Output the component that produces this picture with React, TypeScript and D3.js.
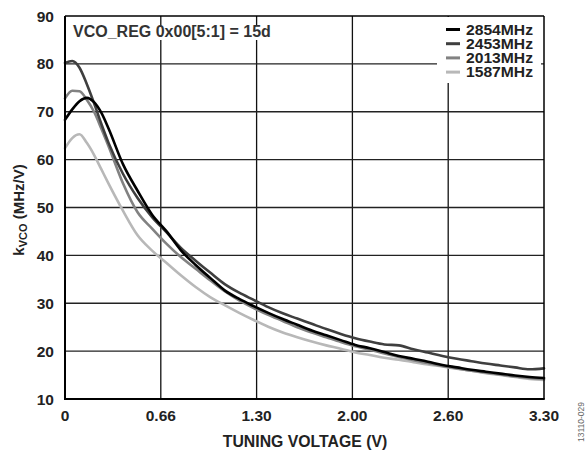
import React from 'react';
import * as d3 from 'd3';

// Tuning voltage (V)
const voltages = [0, 0.05, 0.1, 0.15, 0.2, 0.25, 0.3, 0.4, 0.5, 0.6, 0.7, 0.8, 0.9, 1.0, 1.1, 1.2, 1.3, 1.4, 1.5, 1.6, 1.7, 1.8, 1.9, 2.0, 2.1, 2.2, 2.3, 2.4, 2.5, 2.6, 2.7, 2.8, 2.9, 3.0, 3.1, 3.2, 3.3];

// kVCO (MHz/V) per frequency
const k2854 = [68.3, 70.5, 72.2, 72.9, 72.0, 69.8, 66.5, 59.0, 53.5, 48.5, 45.0, 41.0, 38.0, 35.3, 32.7, 30.9, 29.4, 28.0, 26.7, 25.5, 24.3, 23.3, 22.3, 21.3, 20.6, 19.8, 19.0, 18.4, 17.8, 17.1, 16.6, 16.1, 15.7, 15.3, 14.9, 14.6, 14.4];
const k2453 = [80.2, 80.6, 79.2, 75.8, 71.8, 67.5, 63.5, 57.0, 52.0, 48.0, 44.8, 41.5, 38.9, 36.4, 34.0, 32.2, 30.7, 29.2, 27.9, 26.8, 25.7, 24.6, 23.6, 22.7, 22.0, 21.4, 21.2, 20.4, 19.7, 19.0, 18.4, 17.9, 17.4, 17.0, 16.6, 16.2, 16.4];
const k2013 = [72.8, 74.4, 74.3, 72.5, 70.0, 66.5, 62.8, 55.0, 49.0, 45.6, 42.4, 39.6, 37.2, 34.8, 32.5, 30.6, 29.0, 27.6, 26.3, 25.0, 23.9, 22.9, 21.9, 21.0, 20.3, 19.5, 18.8, 18.1, 17.5, 16.9, 16.4, 15.9, 15.5, 15.1, 14.7, 14.4, 14.2];
const k1587 = [62.4, 64.5, 65.3, 63.5, 61.0, 58.0, 55.0, 49.3, 44.2, 41.0, 38.4, 35.8, 33.4, 31.3, 29.6, 28.0, 26.5, 25.1, 23.9, 22.9, 22.0, 21.2, 20.5, 19.7, 19.2, 18.6, 18.2, 17.7, 17.2, 16.8, 16.3, 15.9, 15.4, 15.0, 14.6, 14.2, 14.0];

const seriesNames = ['2854MHz', '2453MHz', '2013MHz', '1587MHz'];
const seriesValues = [k2854, k2453, k2013, k1587];
const seriesColors = ['#000000', '#3f3f3f', '#828282', '#b8b8b8'];

const yTicks = [10, 20, 30, 40, 50, 60, 70, 80, 90];
const xTickValues = [0, 0.66, 1.32, 1.98, 2.64, 3.3];
const xTickLabels = ['0', '0.66', '1.30', '2.00', '2.60', '3.30'];

const W = 586;
const H = 450;
const L = 65, R = 544, T = 16, B = 399;
const FONT = '"Liberation Sans", Arial, sans-serif';

export default function App() {
  const x = d3.scaleLinear().domain([0, 3.3]).range([L, R]);
  const y = d3.scaleLinear().domain([10, 90]).range([B, T]);
  const line = d3
    .line<number>()
    .x((_, i) => x(voltages[i]))
    .y((d) => y(d))
    .curve(d3.curveMonotoneX);

  const drawOrder = [3, 2, 1, 0];

  return (
    <svg width={W} height={H} style={{ position: 'absolute', left: 0, top: 0, background: '#fff' }} fontFamily={FONT}>
      <rect x={0} y={0} width={W} height={H} fill="#fff" />
      {/* grid */}
      {xTickValues.slice(1, -1).map((v) => (
        <line key={'gx' + v} x1={x(v)} x2={x(v)} y1={T} y2={B} stroke="#111" strokeWidth={1.3} />
      ))}
      {yTicks.slice(1, -1).map((v) => (
        <line key={'gy' + v} x1={L} x2={R} y1={y(v)} y2={y(v)} stroke="#222" strokeWidth={1.3} />
      ))}
      {/* annotation box */}
      <rect x={70} y={26} width={202} height={14} fill="#fff" />
      {/* legend box */}
      <rect x={437} y={17} width={104} height={66} fill="#fff" />
      {/* series */}
      {drawOrder.map((i) => (
        <path
          key={seriesNames[i]}
          d={line(seriesValues[i]) || ''}
          fill="none"
          stroke={seriesColors[i]}
          strokeWidth={2.6}
          strokeLinejoin="round"
          strokeLinecap="round"
        />
      ))}
      {/* frame */}
      <line x1={L} x2={R} y1={T} y2={T} stroke="#000" strokeWidth={1.5} />
      <line x1={R} x2={R} y1={T} y2={B} stroke="#000" strokeWidth={1.5} />
      <line x1={L} x2={L} y1={T} y2={B + 1} stroke="#000" strokeWidth={2} />
      <line x1={L - 1} x2={R + 0.75} y1={B} y2={B} stroke="#000" strokeWidth={2.2} />
      {/* y ticks */}
      {yTicks.map((v) => (
        <text key={'yt' + v} x={54} y={y(v) + 5.5} textAnchor="end" fontSize={15.5} fontWeight="bold" fill="#222">
          {v}
        </text>
      ))}
      {/* x ticks */}
      {xTickValues.map((v, i) => (
        <text key={'xt' + v} x={x(v)} y={421} textAnchor="middle" fontSize={15.5} fontWeight="bold" fill="#222">
          {xTickLabels[i]}
        </text>
      ))}
      {/* axis titles */}
      <text x={305} y={447} textAnchor="middle" fontSize={15.8} fontWeight="bold" fill="#222">
        TUNING VOLTAGE (V)
      </text>
      <text transform="translate(24,210) rotate(-90)" textAnchor="middle" fontSize={15} fontWeight="bold" fill="#222">
        k<tspan fontSize={11} dy={3}>VCO</tspan>
        <tspan dy={-3}> (MHz/V)</tspan>
      </text>
      {/* annotation */}
      <text x={73} y={37} fontSize={16} fontWeight="bold" fill="#333">
        VCO_REG 0x00[5:1] = 15d
      </text>
      {/* legend */}
      {seriesNames.map((n, i) => (
        <g key={'lg' + n}>
          <line x1={446} x2={460} y1={29.5 + i * 14.2} y2={29.5 + i * 14.2} stroke={seriesColors[i]} strokeWidth={3} />
          <text
            x={466}
            y={34.5 + i * 14.3}
            fontSize={14}
            fontWeight="bold"
            fill="#222"
            textLength={67}
            lengthAdjust="spacingAndGlyphs"
          >
            {n}
          </text>
        </g>
      ))}
      {/* figure id */}
      <text transform="translate(584,422) rotate(-90)" textAnchor="middle" fontSize={8.5} fill="#666">
        13110-029
      </text>
    </svg>
  );
}
